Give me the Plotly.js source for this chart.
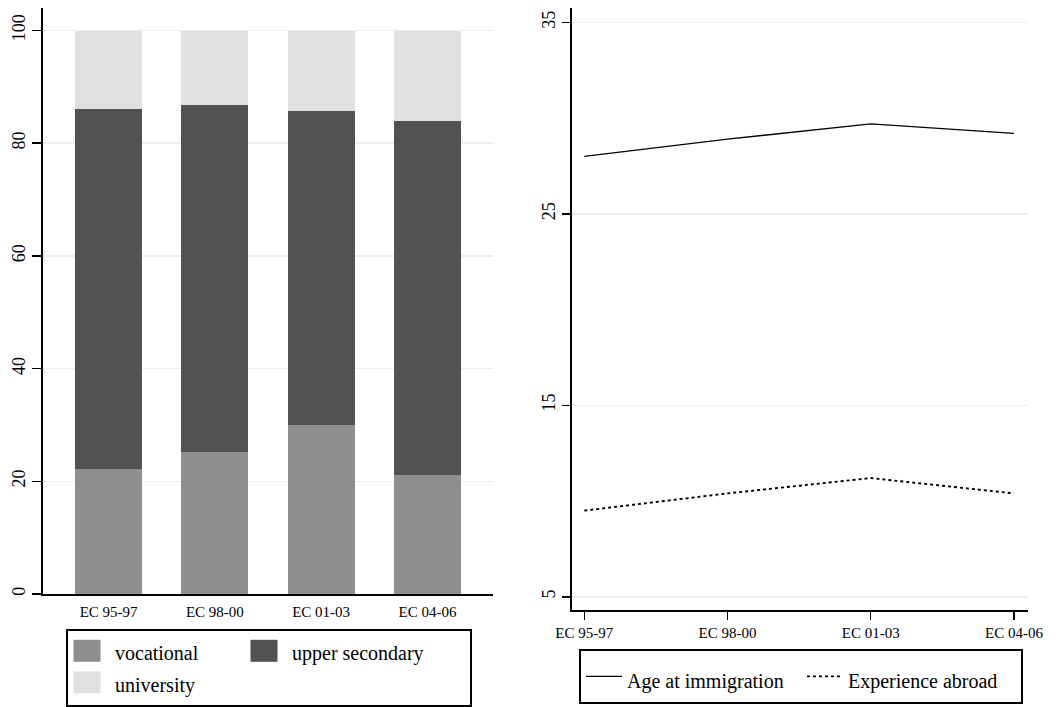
<!DOCTYPE html>
<html>
<head>
<meta charset="utf-8">
<script src="https://cdn.plot.ly/plotly-3.0.1.min.js"></script>
<style>html,body{margin:0;padding:0;background:#fff;}#chart{width:1058px;height:707px;}</style>
</head>
<body>
<div id="chart"></div>
<script>
// ---- data ----
var cohorts = ["EC 95-97", "EC 98-00", "EC 01-03", "EC 04-06"];
var vocational = [22.2, 25.2, 30.0, 21.1];
var upperSecondary = [63.8, 61.5, 55.7, 62.9];
var university = [14.0, 13.3, 14.3, 16.0];
var ageAtImmigration = [28.0, 28.9, 29.7, 29.2];
var experienceAbroad = [9.5, 10.4, 11.2, 10.4];
var barNames = ["vocational", "upper secondary", "university"];
var lineNames = ["Age at immigration", "Experience abroad"];

var FONT = "Liberation Serif, Times New Roman, serif";
function lbl(s) { return '<span style="font-size:20px">' + s + '</span>'; }

var traces = [
  {type: "bar", x: cohorts, y: vocational, name: lbl(barNames[0]), xaxis: "x", yaxis: "y",
   marker: {color: "#8e8e8e"}, legend: "legend", legendgroup: "a", hoverinfo: "skip"},
  {type: "bar", x: cohorts, y: upperSecondary, name: lbl(barNames[1]), xaxis: "x", yaxis: "y",
   marker: {color: "#525252"}, legend: "legend", legendgroup: "b", legendwidth: 173, hoverinfo: "skip"},
  {type: "bar", x: cohorts, y: university, name: lbl(barNames[2]), xaxis: "x", yaxis: "y",
   marker: {color: "#e0e0e0"}, legend: "legend", legendgroup: "a", hoverinfo: "skip"},
  {type: "scatter", mode: "lines", x: cohorts, y: ageAtImmigration, name: lbl(lineNames[0]),
   xaxis: "x2", yaxis: "y2", line: {color: "#000", width: 1.3}, legend: "legend2", legendwidth: 170, hoverinfo: "skip"},
  {type: "scatter", mode: "lines", x: cohorts, y: experienceAbroad, name: lbl(lineNames[1]),
   xaxis: "x2", yaxis: "y2", line: {color: "#000", width: 1.9, dash: "dot"}, legend: "legend2", legendwidth: 168, hoverinfo: "skip"}
];

var W = 1058, H = 707;
var gridColor = "#e9f0f2";
var layout = {
  width: W, height: H,
  margin: {l: 0, r: 0, t: 0, b: 0, autoexpand: false},
  paper_bgcolor: "#fff", plot_bgcolor: "#fff",
  font: {family: FONT, color: "#000"},
  barmode: "stack", bargap: 0.37,
  showlegend: true,
  xaxis: {domain: [43 / W, 493 / W], anchor: "y", type: "category", range: [-0.617, 3.617],
    showline: true, linecolor: "#000", linewidth: 2, ticks: "", showgrid: false, zeroline: false,
    ticklabelstandoff: 3, tickfont: {size: 15, family: FONT}, fixedrange: true},
  yaxis: {domain: [1 - 594 / H, 1 - 8 / H], anchor: "x", range: [0, 104],
    tickvals: [0, 20, 40, 60, 80, 100], ticks: "outside", ticklen: 9, tickwidth: 1.5, tickcolor: "#000",
    tickangle: -90, tickfont: {size: 18, family: FONT},
    showline: true, linecolor: "#000", linewidth: 2, showgrid: true, gridcolor: gridColor, gridwidth: 1.5,
    zeroline: false, fixedrange: true},
  xaxis2: {domain: [571.7 / W, 1027.7 / W], anchor: "y2", type: "category", range: [-0.088, 3.096],
    showline: true, linecolor: "#000", linewidth: 2, ticks: "outside", ticklen: 8, tickwidth: 1.5, tickcolor: "#000",
    showgrid: false, zeroline: false, tickfont: {size: 15, family: FONT}, fixedrange: true},
  yaxis2: {domain: [1 - 610 / H, 1 - 8 / H], anchor: "x2", range: [4.31, 35.75],
    tickvals: [5, 15, 25, 35], ticks: "outside", ticklen: 8, tickwidth: 1.5, tickcolor: "#000",
    tickangle: -90, tickfont: {size: 18, family: FONT},
    showline: true, linecolor: "#000", linewidth: 2, showgrid: true, gridcolor: gridColor, gridwidth: 1.5,
    zeroline: false, fixedrange: true},
  legend: {x: 66 / W, y: 1 - 629 / H, xanchor: "left", yanchor: "top", orientation: "h",
    traceorder: "grouped", tracegroupgap: 0, bordercolor: "#000", borderwidth: 2, bgcolor: "#fff",
    font: {size: 22, family: FONT}, itemwidth: 39, entrywidth: 123, itemclick: false, itemdoubleclick: false},
  legend2: {x: 579 / W, y: 1 - 649 / H, xanchor: "left", yanchor: "top", orientation: "h",
    bordercolor: "#000", borderwidth: 2, bgcolor: "#fff", itemwidth: 36, entrywidth: 167,
    font: {size: 29, family: FONT}, itemclick: false, itemdoubleclick: false}
};

function fixSwatches() {
  document.querySelectorAll("#chart g.legend g.legendpoints path").forEach(function (p) {
    p.setAttribute("d", "M-17,10H10V-12H-17Z");
  });
}
var pr = Plotly.newPlot("chart", traces, layout, {staticPlot: true, displayModeBar: false});
fixSwatches();
if (pr && pr.then) pr.then(fixSwatches);
</script>
</body>
</html>
